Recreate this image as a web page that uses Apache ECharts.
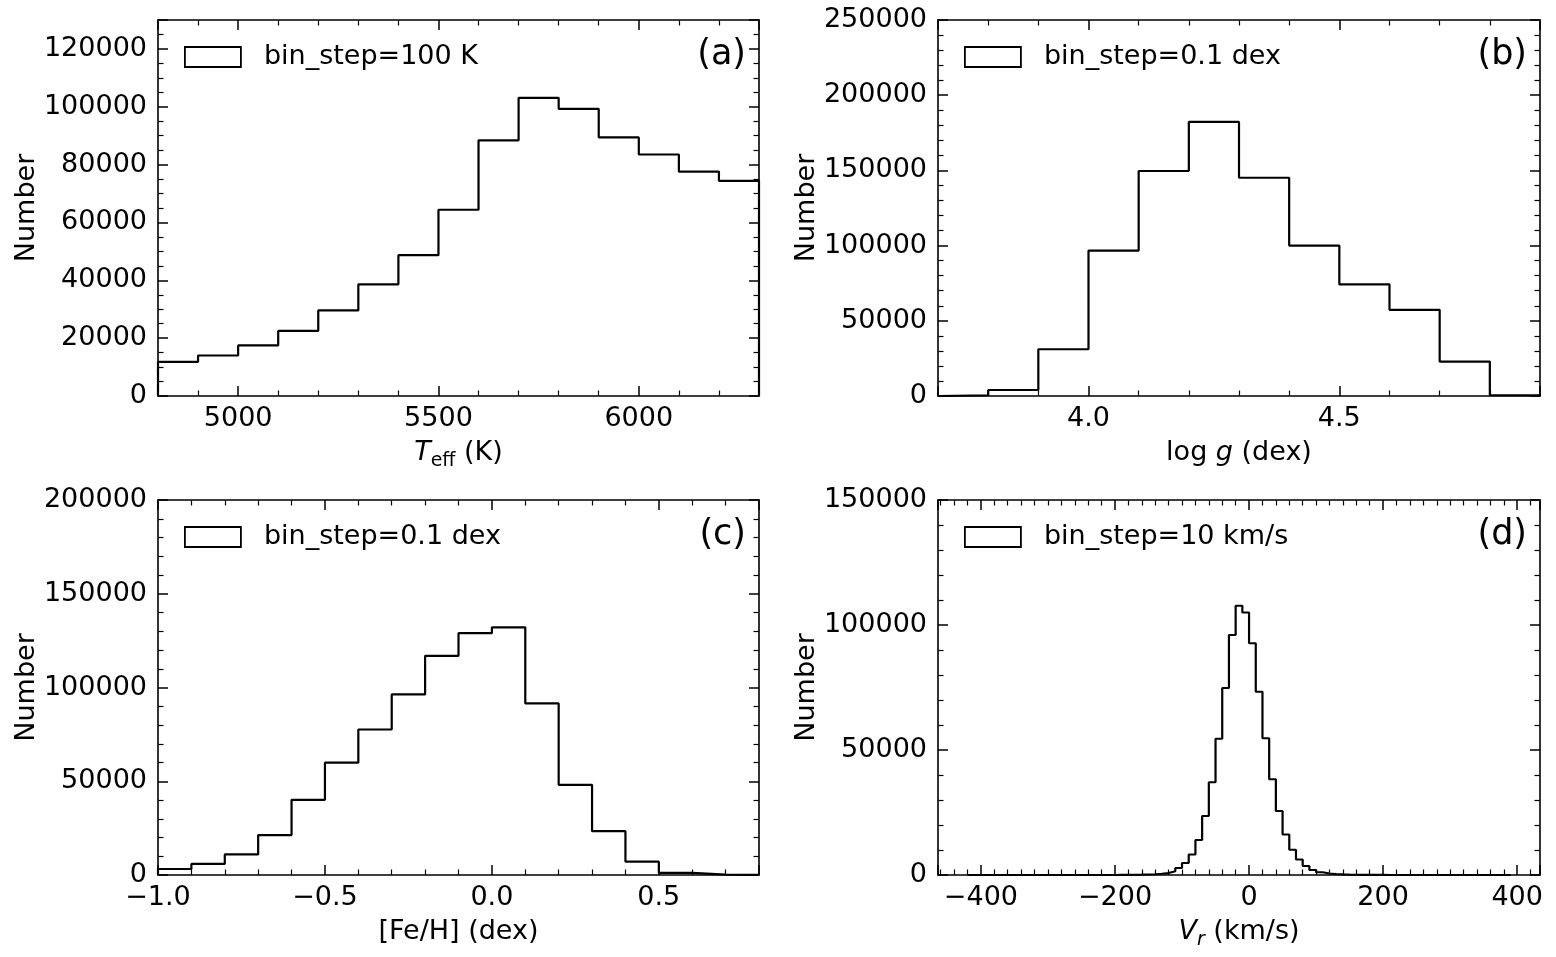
<!DOCTYPE html>
<html>
<head>
<meta charset="utf-8">
<script src="https://cdn.jsdelivr.net/npm/echarts@6/dist/echarts.min.js"></script>
<style>
  html, body { margin: 0; padding: 0; background: #fff; }
  #main { width: 1556px; height: 957px; }
</style>
</head>
<body>
<div id="main"></div>
<script>
// DATA ------------------------------------------------------------------
// (a) Teff, bins of 100 K starting at 4800 K
var teffStart = 4800, teffStep = 100;
var teffCounts = [11800, 14000, 17500, 22500, 29600, 38600, 48700, 64400, 88400, 103100, 99300, 89400, 83500, 77600, 74400];

// (b) log g, bins of 0.1 dex starting at 3.7
var loggStart = 3.7, loggStep = 0.1;
var loggCounts = [500, 4000, 31100, 96700, 149600, 182200, 145100, 100000, 74200, 57300, 22900, 500];

// (c) [Fe/H], bins of 0.1 dex starting at -1.0
var fehStart = -1.0, fehStep = 0.1;
var fehCounts = [3200, 5900, 11000, 21300, 40100, 59900, 77600, 96300, 116900, 129000, 132100, 91500, 48100, 23400, 7100, 1100, 200, 50];

// (d) Vr, bins of 10 km/s starting at -420
var vrStart = -420, vrStep = 10;
var vrCounts = [
  0, 0, 0, 0, 0, 0, 0, 0, 0, 0, 0, 0, 0, 0, 0, 0, 0, 0, 0, 0, 0, 0,
  40, 60, 90, 130, 200, 300, 500, 800, 1500, 2800,
  4800, 8200, 14000, 23600, 37100, 54500, 74800, 96000, 107700, 105000,
  92700, 73300, 54700, 38300, 25600, 16200, 10100, 6200, 3600, 2000,
  1100, 600, 400, 250, 160, 100, 70, 50, 30, 20,
  0, 0, 0, 0, 0, 0, 0, 0, 0, 0, 0, 0, 0, 0, 0, 0, 0, 0, 0
];

var legendNames = ['bin_step=100 K', 'bin_step=0.1 dex', 'bin_step=0.1 dex', 'bin_step=10 km/s'];
var panelTags = ['(a)', '(b)', '(c)', '(d)'];
var xNames = ['{i|T}{sub|eff}{n| (K)}', '{n|log }{i|g}{n| (dex)}', '{n|[Fe/H] (dex)}', '{i|V}{isub|r}{n| (km/s)}'];

// LAYOUT ----------------------------------------------------------------
var FONT = 'DejaVu Sans';
var FS = 27;
var panels = [
  { left: 158, top: 20,  width: 601, height: 376, xmin: 4800, xmax: 6300, xsplit: 3, xminor: 5, ymax: 130000, yint: 20000, yminor: 4, xfmt: 0, showXMin: false, showYMax: false },
  { left: 938, top: 20,  width: 602, height: 376, xmin: 3.7,  xmax: 4.9,  xsplit: 2, xminor: 5, ymax: 250000, yint: 50000, yminor: 5, xfmt: 1, showXMin: false, showYMax: true },
  { left: 158, top: 500, width: 601, height: 375, xmin: -1.0, xmax: 0.8,  xsplit: 4, xminor: 5, ymax: 200000, yint: 50000, yminor: 5, xfmt: 1, showXMin: true,  showYMax: true },
  { left: 938, top: 500, width: 602, height: 375, xmin: -464, xmax: 434,  xsplit: 5, xminor: 10, ymax: 150000, yint: 50000, yminor: 5, xfmt: 0, showXMin: false, showYMax: true }
];

function stepData(start, step, counts) {
  var pts = [[start, 0]];
  for (var i = 0; i < counts.length; i++) {
    pts.push([+(start + i * step).toFixed(4), counts[i]]);
  }
  pts.push([+(start + counts.length * step).toFixed(4), 0]);
  return pts;
}

var histData = [
  stepData(teffStart, teffStep, teffCounts),
  stepData(loggStart, loggStep, loggCounts),
  stepData(fehStart, fehStep, fehCounts),
  stepData(vrStart, vrStep, vrCounts)
];

function minus(s) { return String(s).replace('-', '\u2212'); }

var lineCol = '#000';
function baseAxis(showLabel) {
  return {
    axisLine: { show: true, onZero: false, lineStyle: { color: lineCol, width: 1.6 } },
    axisTick: { show: true, inside: true, length: 10, lineStyle: { color: lineCol, width: 1.5 } },
    minorTick: { show: true, length: 5.5, lineStyle: { color: lineCol, width: 1.2 } },
    splitLine: { show: false },
    axisLabel: { show: showLabel, color: '#000', fontFamily: FONT, fontSize: FS }
  };
}

var grids = [], xAxes = [], yAxes = [], series = [], legends = [], titles = [];

panels.forEach(function (p, k) {
  grids.push({ left: p.left, top: p.top, width: p.width, height: p.height, containLabel: false, outerBoundsMode: 'none' });

  // bottom + top x axes
  for (var s = 0; s < 2; s++) {
    var ax = baseAxis(s === 0);
    ax.type = 'value';
    ax.gridIndex = k;
    ax.position = s === 0 ? 'bottom' : 'top';
    ax.min = p.xmin; ax.max = p.xmax;
    ax.splitNumber = p.xsplit;
    ax.minorTick.splitNumber = p.xminor;
    ax.axisLabel.margin = 9;
    ax.axisLabel.showMinLabel = p.showXMin;
    ax.axisLabel.showMaxLabel = false;
    ax.axisLabel.formatter = (function (d) {
      return function (v) { return minus(d ? v.toFixed(d) : String(v)); };
    })(p.xfmt);
    if (s === 0) {
      ax.name = xNames[k];
      ax.nameLocation = 'middle';
      ax.nameGap = 39;
      ax.nameTextStyle = {
        color: '#000', fontFamily: FONT, fontSize: FS,
        rich: {
          n: { fontFamily: FONT, fontSize: FS, color: '#000', lineHeight: 36 },
          i: { fontFamily: FONT, fontSize: FS, color: '#000', fontStyle: 'italic', lineHeight: 36 },
          sub: { fontFamily: FONT, fontSize: 19, color: '#000', verticalAlign: 'bottom', lineHeight: 20 },
          isub: { fontFamily: FONT, fontSize: 19, color: '#000', fontStyle: 'italic', verticalAlign: 'bottom', lineHeight: 20 }
        }
      };
    }
    xAxes.push(ax);
  }

  // left + right y axes
  for (var t = 0; t < 2; t++) {
    var ay = baseAxis(t === 0);
    ay.type = 'value';
    ay.gridIndex = k;
    ay.position = t === 0 ? 'left' : 'right';
    ay.min = 0; ay.max = p.ymax;
    ay.interval = p.yint;
    ay.minorTick.splitNumber = p.yminor;
    ay.axisLabel.margin = 11;
    ay.axisLabel.showMaxLabel = p.showYMax;
    ay.axisLabel.formatter = function (v) { return String(v); };
    if (t === 0) {
      ay.name = 'Number';
      ay.nameLocation = 'middle';
      ay.nameGap = 116;
      ay.nameTextStyle = { color: '#000', fontFamily: FONT, fontSize: FS };
    }
    yAxes.push(ay);
  }

  series.push({
    name: legendNames[k],
    type: 'line',
    step: 'end',
    xAxisIndex: 2 * k,
    yAxisIndex: 2 * k,
    symbol: 'none',
    silent: true,
    lineStyle: { color: '#000', width: 2.2 },
    itemStyle: { color: '#000' },
    data: histData[k]
  });

  legends.push({
    data: [legendNames[k]],
    left: p.left + 26,
    top: p.top + 23.5,
    padding: 0,
    icon: 'rect',
    itemWidth: 56,
    itemHeight: 20,
    selectedMode: false,
    itemStyle: { color: 'rgba(0,0,0,0)', borderColor: '#000', borderWidth: 1.8 },
    textStyle: { color: '#000', fontFamily: FONT, fontSize: FS, padding: [0, 0, 0, 18] }
  });

  titles.push({
    text: panelTags[k],
    right: 1556 - (p.left + p.width) + 13,
    top: p.top + 17,
    padding: 0,
    textStyle: { color: '#000', fontFamily: FONT, fontSize: 35, fontWeight: 'normal' }
  });
});

var chart = echarts.init(document.getElementById('main'), null, { renderer: 'canvas' });
chart.setOption({
  backgroundColor: '#fff',
  animation: false,
  title: titles,
  legend: legends,
  grid: grids,
  xAxis: xAxes,
  yAxis: yAxes,
  series: series
});
</script>
</body>
</html>
